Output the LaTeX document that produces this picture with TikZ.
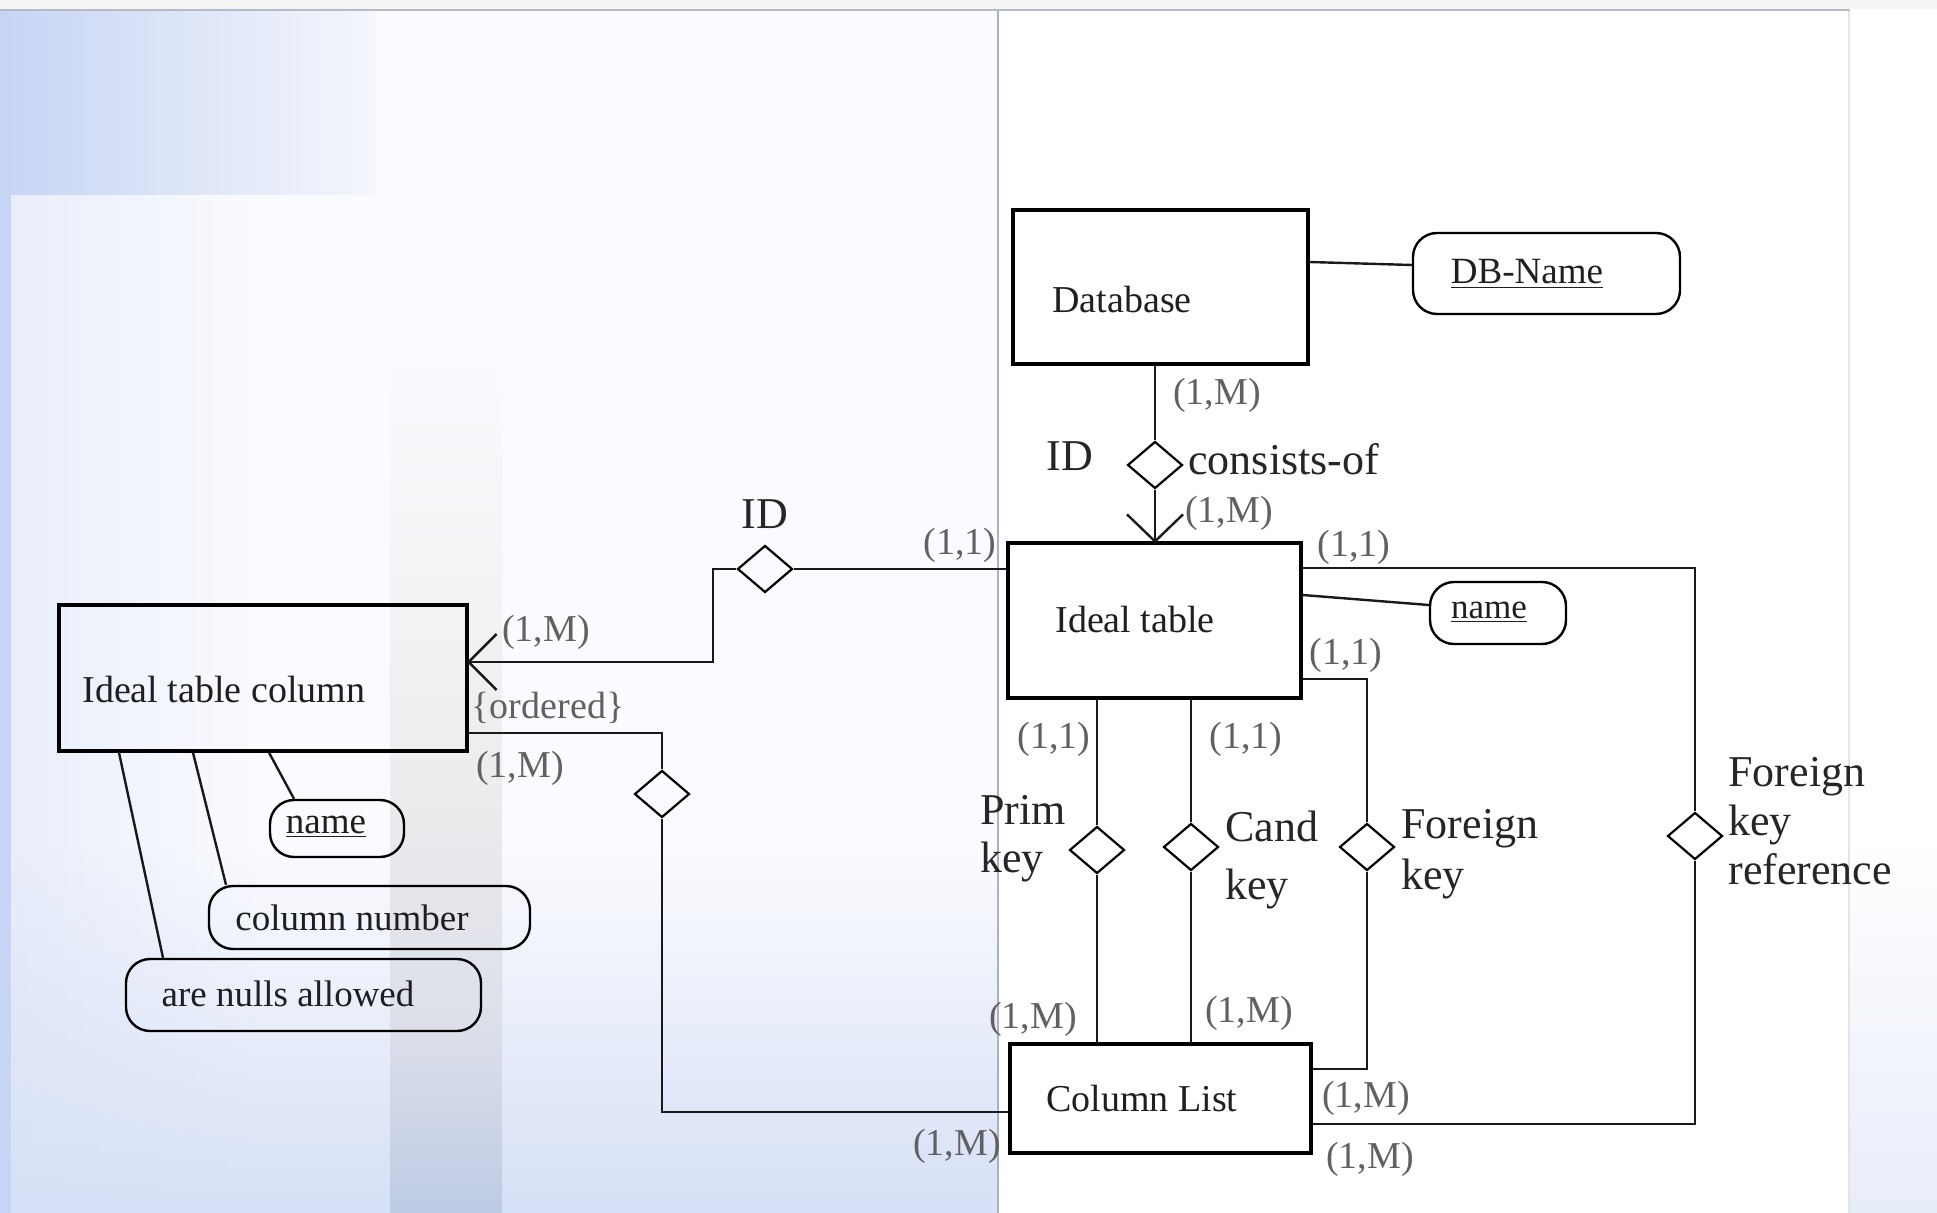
\documentclass[tikz,border=0pt]{standalone}
\usepackage{fontspec}
\setmainfont{Liberation Serif}
\usetikzlibrary{shapes.geometric,calc,fadings}
\definecolor{stripblue}{HTML}{C6D5F4}
\definecolor{panelA}{HTML}{E8EDFA}
\definecolor{panelB}{HTML}{F5F6FC}
\definecolor{panelC}{HTML}{FAFBFE}
\definecolor{bottomblue}{HTML}{D6E0F6}
\definecolor{bandmid}{HTML}{ECECEE}
\definecolor{bandlow}{HTML}{DCDFE9}
\definecolor{bandbot}{HTML}{BECBE5}
\definecolor{sepgray}{HTML}{A9B1C2}
\definecolor{topgray}{HTML}{B5BAC6}
\tikzfading[name=fadeup, top color=transparent!100, bottom color=transparent!0]
\begin{document}
\begin{tikzpicture}[x=0.5pt,y=-0.5pt,
  entity/.style={draw=black, line width=1.6pt, rectangle, inner sep=0pt},
  attr/.style={draw=black, line width=1.2pt, rectangle, rounded corners=12pt, inner sep=0pt},
  rel/.style={draw=black, line width=1.1pt, diamond, minimum width=27.5pt, minimum height=23.5pt, inner sep=0pt},
  conn/.style={line width=1.2pt, black!90},
  card/.style={text=black!62, font=\fontsize{19}{22}\selectfont, inner sep=0pt},
  lbl/.style={text=black!88, font=\fontsize{19}{22}\selectfont, inner sep=0pt},
  attrtxt/.style={text=black!88, font=\fontsize{18.5}{22}\selectfont, inner sep=0pt},
  big/.style={text=black!85, font=\fontsize{22}{25}\selectfont, inner sep=0pt, align=left},
]
\useasboundingbox (0,0) rectangle (1937,1213);
% ---------- background ----------
\fill[white] (0,0) rectangle (1937,1213);
\fill[black!4] (0,0) rectangle (1937,9);
\shade[left color=panelA, right color=panelC] (0,10) rectangle (260,1213);
\fill[panelC] (260,10) rectangle (998,1213);
\fill[bottomblue, path fading=fadeup] (0,850) rectangle (998,1213);
\shade[left color=stripblue, right color=panelB] (0,10) rectangle (375,195);
\shade[top color=panelC, bottom color=bandmid] (390,350) rectangle (502,800);
\shade[top color=bandmid, bottom color=bandlow] (390,800) rectangle (502,1030);
\shade[top color=bandlow, bottom color=bandbot] (390,1030) rectangle (502,1213);
\fill[stripblue] (0,10) rectangle (11,1213);
\fill[panelA, path fading=fadeup] (1850,850) rectangle (1937,1213);
\draw[sepgray, line width=1pt] (998,10) -- (998,1213);
\draw[black!10, line width=0.6pt] (1849,10) -- (1849,1213);
\draw[topgray, line width=1.2pt] (0,10) -- (1850,10);
% ---------- entities ----------
\node[entity, minimum width=147.5pt, minimum height=77pt] (db) at (1160.5,287) {};
\node[lbl, anchor=west] (dbt) at (1052,300) {Database};
\node[entity, minimum width=146.5pt, minimum height=77.5pt] (it) at (1154.5,620.5) {};
\node[lbl, anchor=west] (itt) at (1055,620) {Ideal table};
\node[entity, minimum width=204pt, minimum height=73pt] (itc) at (263,678) {};
\node[lbl, anchor=west] (itct) at (82,690) {Ideal table column};
\node[entity, minimum width=150.5pt, minimum height=54.5pt] (cl) at (1160.5,1098.5) {};
\node[lbl, anchor=west] (clt) at (1046,1098) {Column List};
% ---------- attributes ----------
\node[attr, minimum width=133.5pt, minimum height=40.5pt] (dbn) at (1546.5,273.5) {};
\node[attrtxt] (dbnt) at (1527,274) {\underline{DB-Name}};
\node[attr, minimum width=68pt, minimum height=31pt] (itn) at (1498,613) {};
\node[attrtxt, font=\fontsize{17.5}{20}\selectfont] (itnt) at (1489,612) {\underline{name}};
\node[attr, minimum width=67pt, minimum height=28.5pt] (itcn) at (337,828.5) {};
\node[attrtxt] (itcnt) at (326,827) {\underline{name}};
\node[attr, minimum width=160.5pt, minimum height=31.5pt] (cn) at (369.5,917.5) {};
\node[attrtxt] (cnt) at (352,918) {column number};
\node[attr, minimum width=177.5pt, minimum height=36pt] (na) at (303.5,995) {};
\node[attrtxt] (nat) at (288,994) {are nulls allowed};
% ---------- relationships ----------
\node[rel] (cdia) at (1155,465) {};
\node[rel] (iddia) at (765,569) {};
\node[rel] (ordia) at (662,794) {};
\node[rel] (pkdia) at (1097,850) {};
\node[rel] (ckdia) at (1191,847) {};
\node[rel] (fkdia) at (1367,847) {};
\node[rel] (frdia) at (1695,836) {};
% ---------- connectors ----------
\draw[conn] ([yshift=12.5pt]db.east) -- ([yshift=4.25pt]dbn.west);
\draw[conn] ([yshift=12.75pt]it.east) -- ([yshift=4pt]itn.west);
\draw[conn] ([xshift=3pt]itc.south) -- ([xshift=-21.5pt]itcn.north);
\draw[conn] ([xshift=-35pt]itc.south) -- ([xshift=-71.75pt]cn.north);
\draw[conn] ([xshift=-72pt]itc.south) -- ([xshift=-70.25pt]na.north);
% consists-of
\coordinate (cfa) at (cdia |- it.north);
\draw[conn] (db.south -| cdia) -- (cdia.north);
\draw[conn] (cdia.south) -- (cfa);
\draw[conn] ([xshift=-14pt,yshift=13.5pt]cfa) -- (cfa) -- ([xshift=14pt,yshift=13.5pt]cfa);
% ID relation to Ideal table column
\coordinate (itcA) at ([yshift=8pt]itc.east);
\draw[conn] (it.west |- iddia) -- (iddia.east);
\draw[conn] (iddia.west) -- ++(-23.5,0) |- (itcA);
\draw[conn] ([xshift=14pt,yshift=14pt]itcA) -- (itcA) -- ([xshift=14pt,yshift=-14pt]itcA);
% ordered relation
\coordinate (itcB) at ([yshift=-27.5pt]itc.east);
\coordinate (clW) at ([yshift=-6.75pt]cl.west);
\draw[conn] (itcB) -| (ordia.north);
\draw[conn] (ordia.south) |- (clW);
% Prim key / Cand key
\draw[conn] (pkdia |- it.south) -- (pkdia.north);
\draw[conn] (pkdia.south) -- (pkdia |- cl.north);
\draw[conn] (ckdia |- it.south) -- (ckdia.north);
\draw[conn] (ckdia.south) -- (ckdia |- cl.north);
% Foreign key
\coordinate (itF) at ([yshift=-29.25pt]it.east);
\coordinate (clF) at ([yshift=14.75pt]cl.east);
\draw[conn] (itF) -| (fkdia.north);
\draw[conn] (fkdia.south) |- (clF);
% Foreign key reference
\coordinate (itR) at ([yshift=26.25pt]it.east);
\coordinate (clR) at ([yshift=-12.75pt]cl.east);
\draw[conn] (itR) -| (frdia.north);
\draw[conn] (frdia.south) |- (clR);
% ---------- labels ----------
\node[card] (c1) at (1217,395) {(1,M)};
\node[big] (idl1) at (1070,456) {ID};
\node[big, anchor=west] (cons) at (1188,459) {consists-of};
\node[card] (c2) at (1229,513) {(1,M)};
\node[card] (c3) at (1354,547) {(1,1)};
\node[card] (c4) at (1346,655) {(1,1)};
\node[card] (c5) at (1054,739) {(1,1)};
\node[card] (c6) at (1246,739) {(1,1)};
\node[card] (c7) at (1033,1019) {(1,M)};
\node[card] (c8) at (1249,1013) {(1,M)};
\node[card] (c9) at (1366,1098) {(1,M)};
\node[card] (c10) at (1370,1159) {(1,M)};
\node[card] (c11) at (957,1146) {(1,M)};
\node[card] (c12) at (960,545) {(1,1)};
\node[big] (idl2) at (765,514) {ID};
\node[card] (c13) at (546,632) {(1,M)};
\node[card] (c14) at (548,708) {\{ordered\}};
\node[card] (c15) at (520,768) {(1,M)};
\node[big, anchor=west, font=\fontsize{22}{24}\selectfont] (pk) at (980,839) {Prim\\key};
\node[big, anchor=west, font=\fontsize{22}{29}\selectfont] (ck) at (1225,860) {Cand\\key};
\node[big, anchor=west, font=\fontsize{22}{25.5}\selectfont] (fk) at (1401,854) {Foreign\\key};
\node[big, anchor=west, font=\fontsize{22}{24.5}\selectfont] (fr) at (1728,821) {Foreign\\key\\reference};
\end{tikzpicture}
\end{document}
